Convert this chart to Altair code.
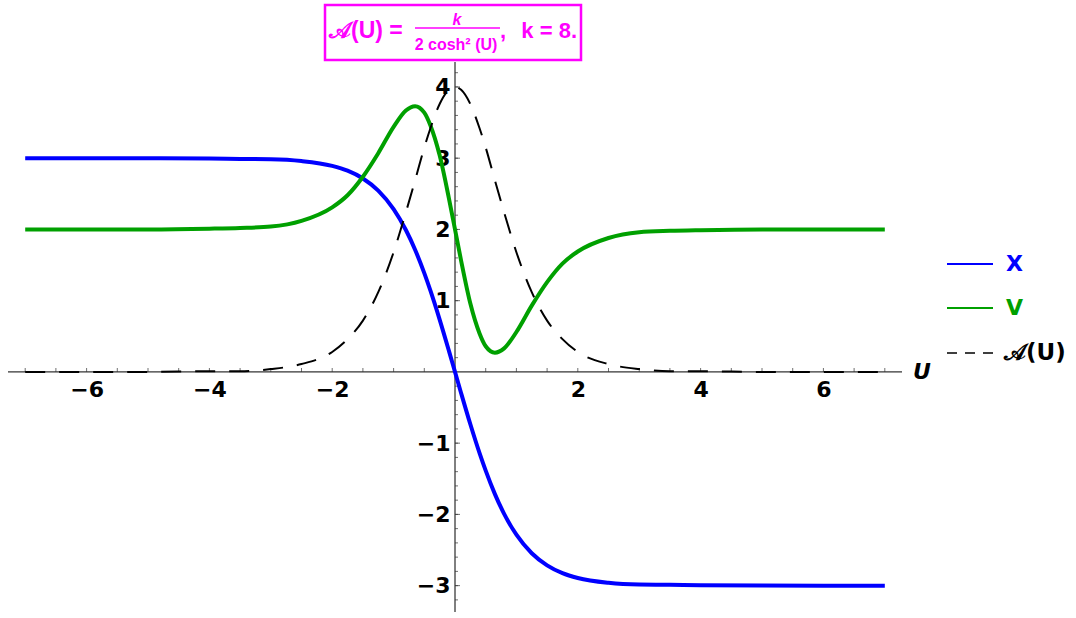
import altair as alt
import pandas as pd

# Sample points along U and the three curves
U = [-7, -6, -5, -4, -3.5, -3, -2.5, -2, -1.75, -1.5, -1.25, -1, -0.8, -0.65, -0.5, -0.4,
     -0.25, -0.1, 0, 0.1, 0.25, 0.4, 0.5, 0.65, 0.8, 1, 1.25, 1.5, 1.75, 2, 2.5, 3, 3.5,
     4, 5, 6, 7]
X_VALS = [3.000, 3.000, 2.999, 2.996, 2.989, 2.985, 2.960, 2.892, 2.824, 2.715, 2.545,
          2.285, 1.992, 1.715, 1.386, 1.140, 0.735, 0.299, 0.000, -0.299, -0.735, -1.140,
          -1.386, -1.715, -1.992, -2.285, -2.545, -2.715, -2.824, -2.892, -2.960, -2.985,
          -2.989, -2.996, -2.999, -3.000, -3.000]
V_VALS = [2.00, 2.00, 2.00, 2.01, 2.02, 2.04, 2.12, 2.31, 2.48, 2.74, 3.07, 3.44, 3.67,
          3.73, 3.64, 3.46, 3.04, 2.44, 2.00, 1.56, 0.96, 0.54, 0.36, 0.27, 0.33, 0.56,
          0.93, 1.26, 1.52, 1.69, 1.88, 1.96, 1.98, 1.99, 2.00, 2.00, 2.00]
A_VALS = [0.00, 0.00, 0.00, 0.01, 0.01, 0.04, 0.11, 0.28, 0.46, 0.72, 1.12, 1.68, 2.24,
          2.69, 3.15, 3.42, 3.76, 3.96, 4.00, 3.96, 3.76, 3.42, 3.15, 2.69, 2.24, 1.68,
          1.12, 0.72, 0.46, 0.28, 0.11, 0.04, 0.01, 0.01, 0.00, 0.00, 0.00]

X_TICK_LABELS = [-6, -4, -2, 2, 4, 6]
Y_TICK_LABELS = [-3, -2, -1, 1, 2, 3, 4]
X_MINOR = [v / 2 for v in range(-14, 15) if v != 0]
Y_MINOR = [round(v / 5, 1) for v in range(-16, 22) if v != 0]
Y_MAJOR = [v for v in Y_MINOR if float(v).is_integer()]

X_DOMAIN = [-7.28, 7.28]
Y_DOMAIN = [-3.37, 4.35]
W, H = 894, 550

FONT = "Liberation Sans"
LABEL_FONT = "DejaVu Sans"
BLUE = "#0000ff"
GREEN = "#00a000"
MAGENTA = "#ff00ff"

xs = alt.Scale(domain=X_DOMAIN, nice=False, zero=False)
ys = alt.Scale(domain=Y_DOMAIN, nice=False, zero=False)

# axes cross at the origin: shift them inward from the plot edges
y_zero_px = H * Y_DOMAIN[1] / (Y_DOMAIN[1] - Y_DOMAIN[0])
x_zero_px = W * (-X_DOMAIN[0]) / (X_DOMAIN[1] - X_DOMAIN[0])

lab = dict(labelFont=LABEL_FONT, labelFontWeight="bold", labelFontSize=22,
           labelColor="black", ticks=False, domain=False, grid=False, title=None,
           labelOverlap=False, labelFlush=False)
x_axis = alt.Axis(values=X_TICK_LABELS, offset=y_zero_px - H, labelPadding=8, **lab)
y_axis = alt.Axis(values=Y_TICK_LABELS, offset=-x_zero_px, labelPadding=5, **lab)


def xenc(field=None, datum=None):
    if datum is not None:
        return alt.X(datum=datum, scale=xs, axis=x_axis)
    return alt.X(field, scale=xs, axis=x_axis)


def yenc(field=None, datum=None):
    if datum is not None:
        return alt.Y(datum=datum, scale=ys, axis=y_axis)
    return alt.Y(field, scale=ys, axis=y_axis)


one = pd.DataFrame({"k": [0]})

# axis lines
x_line = alt.Chart(one).mark_rule(color="black", strokeWidth=1).encode(
    x=xenc(datum=X_DOMAIN[0]), x2=alt.datum(X_DOMAIN[1]), y=yenc(datum=0))
y_line = alt.Chart(one).mark_rule(color="black", strokeWidth=1).encode(
    y=yenc(datum=Y_DOMAIN[0]), y2=alt.datum(Y_DOMAIN[1]), x=xenc(datum=0))

# tick marks pointing into the plot
x_ticks = alt.Chart(pd.DataFrame({"t": X_MINOR})).mark_tick(
    orient="vertical", size=4, thickness=1, yOffset=-2, color="#333333").encode(
    x=xenc("t:Q"), y=yenc(datum=0))
y_ticks = alt.Chart(pd.DataFrame({"t": Y_MINOR})).mark_tick(
    orient="horizontal", size=3, thickness=1, xOffset=1.5, color="#333333").encode(
    y=yenc("t:Q"), x=xenc(datum=0))
y_ticks_major = alt.Chart(pd.DataFrame({"t": Y_MAJOR})).mark_tick(
    orient="horizontal", size=5, thickness=1, xOffset=2.5, color="#333333").encode(
    y=yenc("t:Q"), x=xenc(datum=0))


def curve(vals, color, width, dash=None):
    props = dict(color=color, strokeWidth=width, interpolate="monotone")
    if dash:
        props["strokeDash"] = dash
    df = pd.DataFrame({"U": U, "v": vals})
    return alt.Chart(df).mark_line(**props).encode(x=xenc("U:Q"), y=yenc("v:Q"))


x_curve = curve(X_VALS, BLUE, 4)
v_curve = curve(V_VALS, GREEN, 4)
a_curve = curve(A_VALS, "black", 2, [20, 14])

axis_title = alt.Chart(one).mark_text(
    text="U", font=LABEL_FONT, fontWeight="bold", fontStyle="italic", fontSize=22,
    align="center", baseline="middle", dx=20, color="black").encode(
    x=xenc(datum=X_DOMAIN[1]), y=yenc(datum=0))


def txt(s, x, y, size, color, align="left", baseline="alphabetic", style="normal",
        font=FONT):
    return alt.Chart(one).mark_text(
        text=s, font=font, fontWeight="bold", fontSize=size, color=color, align=align,
        baseline=baseline, fontStyle=style).encode(x=alt.value(x), y=alt.value(y))


def hline(x1, x2, y, color, width, dash=None):
    props = dict(color=color, strokeWidth=width)
    if dash:
        props["strokeDash"] = dash
    return alt.Chart(one).mark_rule(**props).encode(
        x=alt.value(x1), x2=alt.value(x2), y=alt.value(y))


# boxed formula above the plot
title_box = alt.Chart(one).mark_rect(filled=False, stroke=MAGENTA, strokeWidth=2.5).encode(
    x=alt.value(317), x2=alt.value(573), y=alt.value(-57), y2=alt.value(-2))
title_parts = [
    title_box,
    txt("𝒜(U) =", 321, -24, 23, MAGENTA),
    txt("k", 449, -37, 16, MAGENTA, align="center", style="italic"),
    hline(407, 492, -34, MAGENTA, 1.5),
    txt("2 cosh² (U)", 448, -12, 16, MAGENTA, align="center"),
    txt(",", 492, -24, 22, MAGENTA),
    txt("k = 8.", 569, -24, 22, MAGENTA, align="right"),
]

# legend
legend_parts = [
    hline(939, 985, 202, BLUE, 2),
    txt("X", 998, 202, 22, BLUE, baseline="middle", font=LABEL_FONT),
    hline(939, 985, 246, GREEN, 2),
    txt("V", 998, 246, 22, GREEN, baseline="middle", font=LABEL_FONT),
    hline(939, 985, 291, "black", 1.5, [10, 8]),
    txt("𝒜(U)", 996, 291, 23, "black", baseline="middle", font=LABEL_FONT),
]

chart = alt.layer(
    x_line, y_line, x_ticks, y_ticks, y_ticks_major,
    x_curve, v_curve, a_curve, axis_title, *title_parts, *legend_parts
).properties(
    width=W, height=H, autosize="none",
    padding={"left": 8, "top": 62, "right": 174, "bottom": 6},
    background="white",
).configure_view(stroke=None)

chart.save("out.html", embed_options={"renderer": "svg", "actions": False})
